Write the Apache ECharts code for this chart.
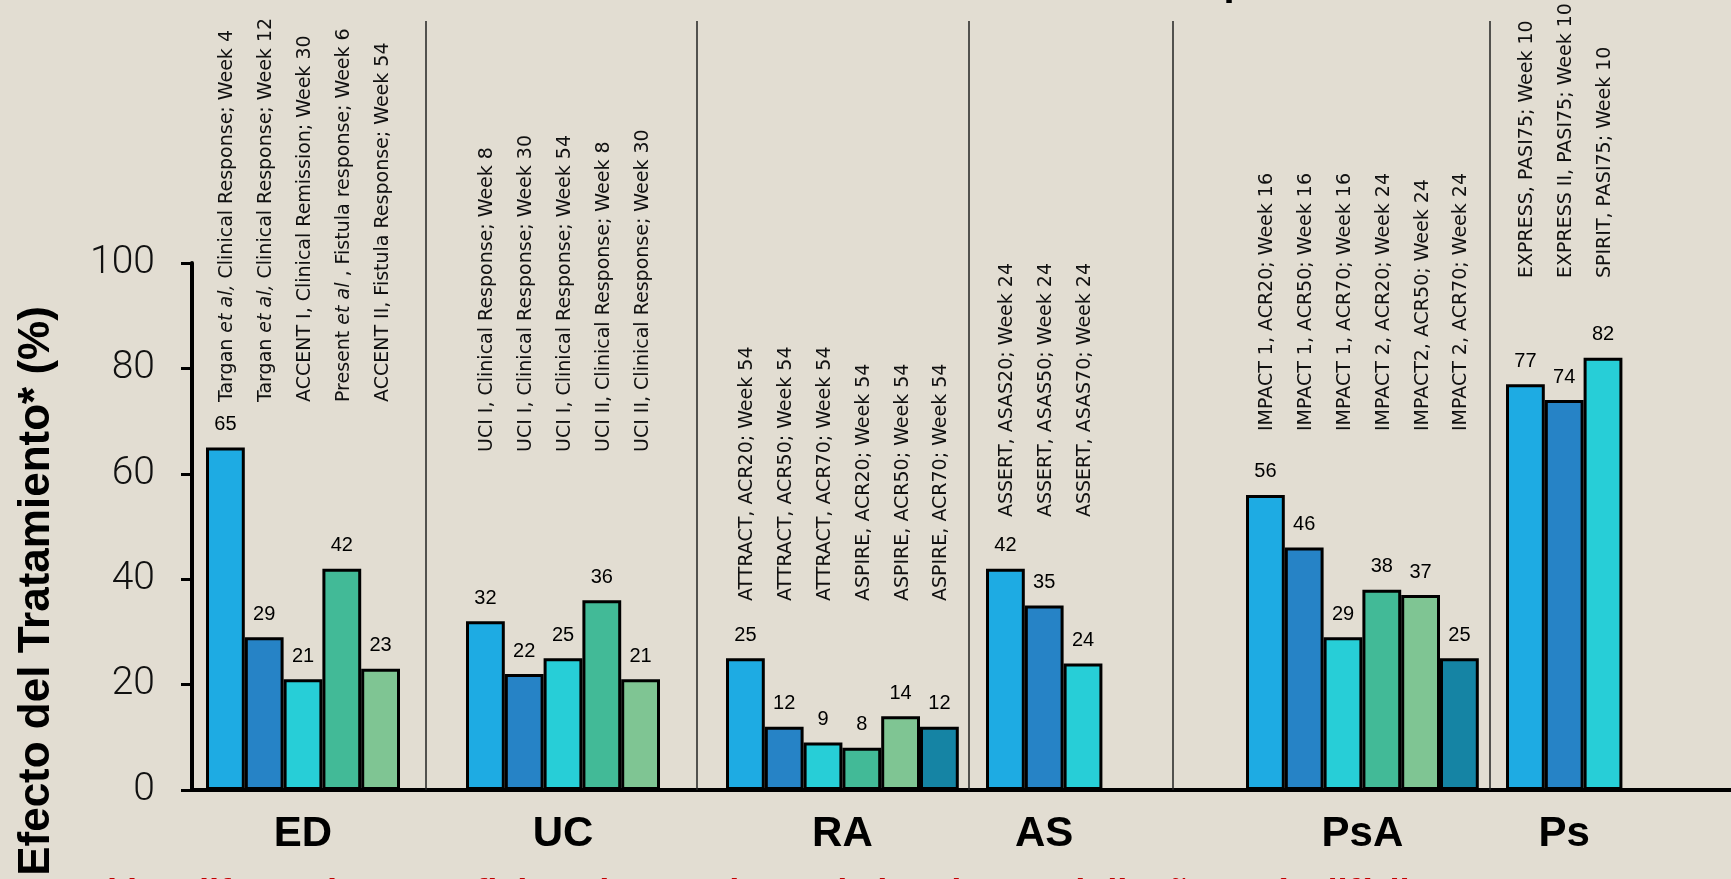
<!DOCTYPE html>
<html>
<head>
<meta charset="utf-8">
<script src="https://cdn.jsdelivr.net/npm/echarts@6/dist/echarts.min.js"></script>
<style>
  html, body { margin: 0; padding: 0; background: #e2ddd2; }
  #chart { width: 1731px; height: 879px; }
</style>
</head>
<body>
<div id="chart"></div>
<script>
// Indications shown along the x axis
const groupNames = ['ED', 'UC', 'RA', 'AS', 'PsA', 'Ps'];

// Study / endpoint captions ({i|...} marks italic runs) and response rates (%)
const edStudies = [
  'Targan {i|et al,} Clinical Response; Week 4',
  'Targan {i|et al,} Clinical Response; Week 12',
  'ACCENT I, Clinical Remission; Week 30',
  'Present {i|et al} , Fistula response; Week 6',
  'ACCENT II, Fistula Response; Week 54'
];
const edValues = [65, 29, 21, 42, 23];

const ucStudies = [
  'UCI I, Clinical Response; Week 8',
  'UCI I, Clinical Response; Week 30',
  'UCI I, Clinical Response; Week 54',
  'UCI II, Clinical Response; Week 8',
  'UCI II, Clinical Response; Week 30'
];
const ucValues = [32, 22, 25, 36, 21];

const raStudies = [
  'ATTRACT, ACR20; Week 54',
  'ATTRACT, ACR50; Week 54',
  'ATTRACT, ACR70; Week 54',
  'ASPIRE, ACR20; Week 54',
  'ASPIRE, ACR50; Week 54',
  'ASPIRE, ACR70; Week 54'
];
const raValues = [25, 12, 9, 8, 14, 12];

const asStudies = [
  'ASSERT, ASAS20; Week 24',
  'ASSERT, ASAS50; Week 24',
  'ASSERT, ASAS70; Week 24'
];
const asValues = [42, 35, 24];

const psaStudies = [
  'IMPACT 1, ACR20; Week 16',
  'IMPACT 1, ACR50; Week 16',
  'IMPACT 1, ACR70; Week 16',
  'IMPACT 2, ACR20; Week 24',
  'IMPACT2, ACR50; Week 24',
  'IMPACT 2, ACR70; Week 24'
];
const psaValues = [56, 46, 29, 38, 37, 25];

const psStudies = [
  'EXPRESS, PASI75; Week 10',
  'EXPRESS II, PASI75; Week 10',
  'SPIRIT, PASI75; Week 10'
];
const psValues = [77, 74, 82];

const yAxisTitle = 'Efecto del Tratamiento* (%)';
const footerText = '\u201CSi las diferencias no reflejan el tratamiento de los datos, el dise\u00F1o ser\u00EDa dif\u00EDcil\u201D';
const headerText = 'Respuesta';

const studyLists = [edStudies, ucStudies, raStudies, asStudies, psaStudies, psStudies];
const valueLists = [edValues, ucValues, raValues, asValues, psaValues, psValues];

// ---- layout (pixels) ----
const W = 1731, H = 879;
const plotTop = 263, plotBottom = 89, axisLeft = 192;
const slot = 38.8;                                   // width of one bar
const groupLeft = [206, 466, 726, 986, 1246, 1506];  // left edge of each bar cluster
const captionStartY = [402, 452, 601, 517, 431, 278];
const dividerX = [426, 697, 969, 1173, 1490];
const dividerTop = 21;
const captionNudge = 2;

// ---- styles ----
const palette = ['#1eabe3', '#2683c6', '#27ced7', '#42ba97', '#7fc593', '#1584a4'];
const captionFont = '"DejaVu Sans", sans-serif';
const valueFont = '"Liberation Sans", Arial, sans-serif';

const grids = [{
  left: axisLeft, right: 0, top: plotTop, bottom: plotBottom,
  outerBoundsMode: 'none', containLabel: false
}];
const xAxes = [{
  gridIndex: 0, type: 'value', min: 0, max: 1,
  axisLine: { show: true, lineStyle: { color: '#000', width: 4 } },
  axisTick: { show: false }, axisLabel: { show: false }, splitLine: { show: false }
}];
const yAxes = [{
  gridIndex: 0, type: 'value', min: 0, max: 100, interval: 20,
  axisLine: { show: true, lineStyle: { color: '#000', width: 4 } },
  axisTick: { show: true, inside: false, length: 11, lineStyle: { color: '#000', width: 3 } },
  axisLabel: {
    show: true, margin: 37, color: '#111',
    fontFamily: 'Roboto, "Open Sans", sans-serif', fontWeight: 300, fontSize: 39
  },
  splitLine: { show: false }
}];
const series = [];

groupNames.forEach((name, g) => {
  const gi = g + 1;
  const values = valueLists[g];
  const studies = studyLists[g];
  const left = groupLeft[g];
  const width = slot * values.length;
  grids.push({
    left: left, right: W - left - width, top: plotTop, bottom: plotBottom,
    outerBoundsMode: 'none', containLabel: false
  });
  xAxes.push({
    gridIndex: gi, type: 'category', data: studies,
    axisLine: { show: false }, axisTick: { show: false }, axisLabel: { show: false },
    splitLine: { show: false },
    name: name, nameLocation: 'middle', nameGap: 23,
    nameTextStyle: {
      fontFamily: '"Liberation Sans Narrow", "Liberation Sans", Arial, sans-serif',
      fontWeight: 'bold', fontSize: 42, color: '#000'
    }
  });
  yAxes.push({ gridIndex: gi, type: 'value', min: 0, max: 100, show: false });

  series.push({
    type: 'bar', xAxisIndex: gi, yAxisIndex: gi,
    barCategoryGap: '0%', barGap: '0%',
    data: values.map((v, j) => ({ value: v, itemStyle: { color: palette[j] } })),
    itemStyle: { borderColor: '#000', borderWidth: 3 },
    label: {
      show: true, position: 'top', distance: 13, formatter: '{c}',
      fontFamily: valueFont, fontSize: 20, color: '#000'
    },
    z: 3
  });

  series.push({
    type: 'custom', xAxisIndex: gi, yAxisIndex: gi,
    silent: true, clip: false, z: 5,
    data: studies.map((s, j) => [j, 0]),
    encode: { x: 0, y: 1 },
    renderItem: (params, api) => {
      const p = api.coord([api.value(0), 0]);
      return {
        type: 'text',
        x: p[0] + captionNudge,
        y: captionStartY[g],
        rotation: Math.PI / 2,
        style: {
          text: studies[params.dataIndex],
          fontFamily: captionFont, fontSize: 19, fill: '#111',
          align: 'left', verticalAlign: 'middle',
          rich: {
            i: { fontFamily: captionFont, fontSize: 19, fontStyle: 'italic', fill: '#111' }
          }
        }
      };
    }
  });
});

const chart = echarts.init(document.getElementById('chart'), null, { renderer: 'canvas' });

const baseY = H - plotBottom;
const graphics = dividerX.map(x => ({
  type: 'line', silent: true, z: 1,
  shape: { x1: x, y1: dividerTop, x2: x, y2: baseY },
  style: { stroke: '#222', lineWidth: 1.5 }
}));
graphics.push({
  type: 'text', silent: true, x: 37, y: 591, rotation: Math.PI / 2,
  style: {
    text: yAxisTitle, fill: '#000', align: 'center', verticalAlign: 'middle',
    font: 'bold 44px "Liberation Sans", Arial, sans-serif'
  }
});
graphics.push({
  type: 'text', silent: true, x: 62, y: 877,
  style: {
    text: footerText, fill: '#c00000', align: 'left', verticalAlign: 'top',
    font: 'italic bold 36px "Liberation Sans", Arial, sans-serif'
  }
});
graphics.push({
  type: 'text', silent: true, x: 1150, y: -16,
  style: {
    text: headerText, fill: '#000', align: 'left', verticalAlign: 'middle',
    font: 'bold 40px "Liberation Sans", Arial, sans-serif'
  }
});

chart.setOption({
  backgroundColor: '#e2ddd2',
  animation: false,
  grid: grids,
  xAxis: xAxes,
  yAxis: yAxes,
  series: series,
  graphic: graphics
});
</script>
</body>
</html>
